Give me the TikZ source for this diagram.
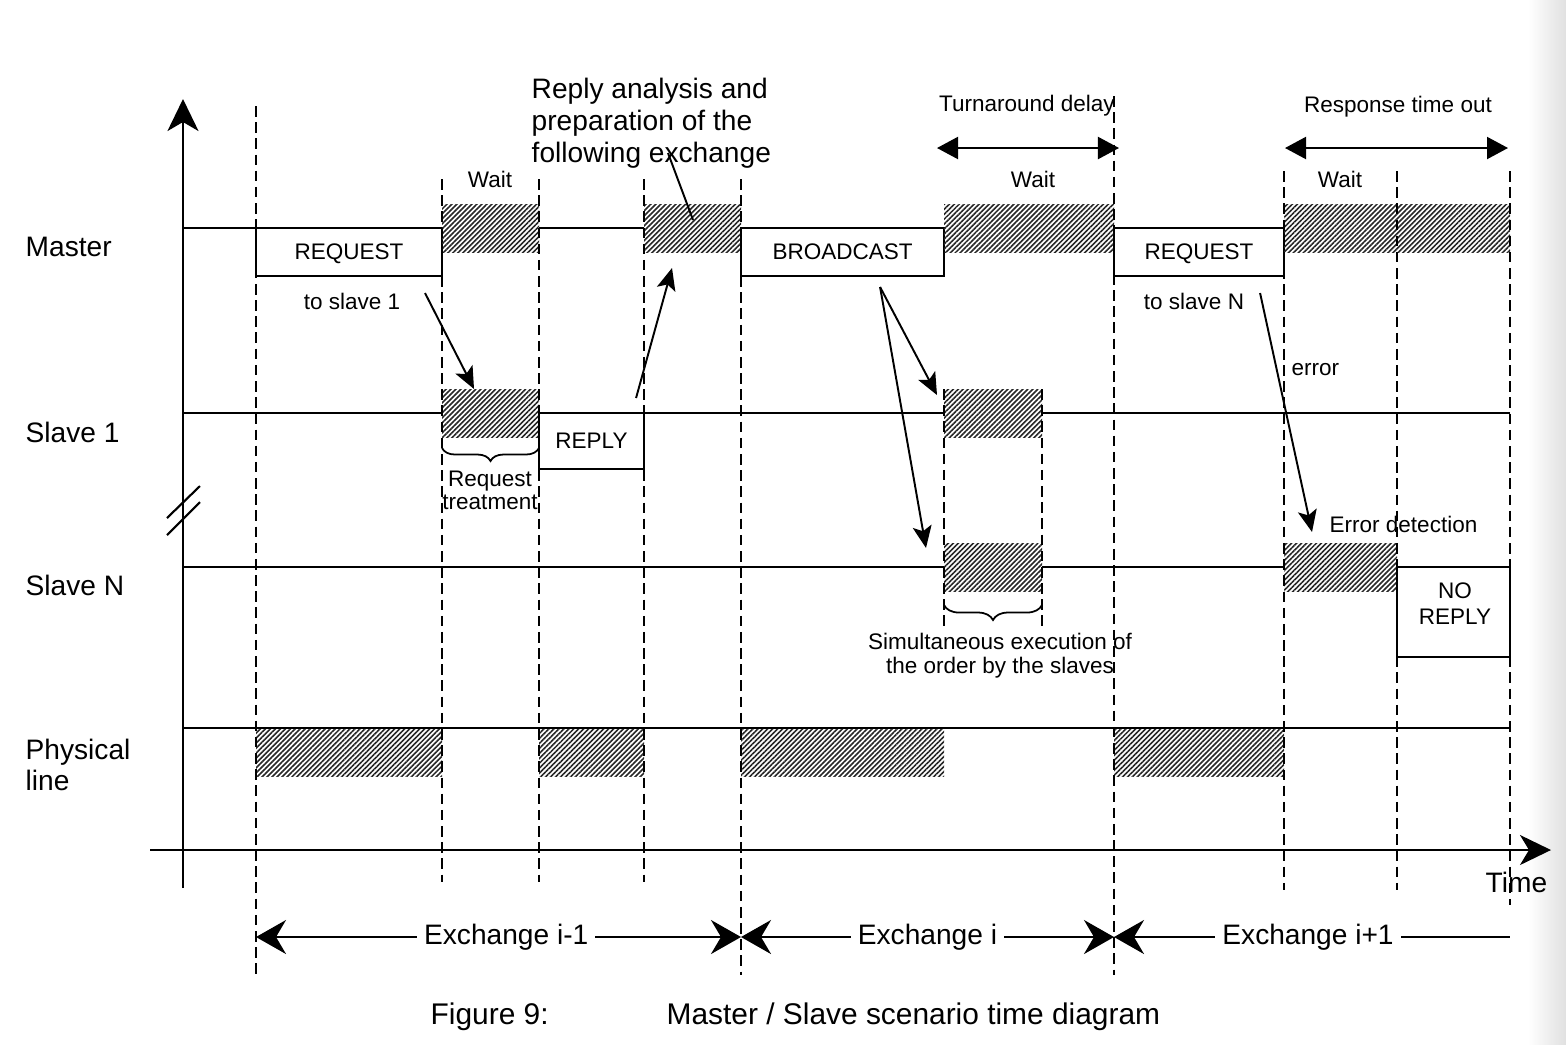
\documentclass[tikz,border=0pt]{standalone}
\usepackage{fontspec}
\setmainfont{Liberation Sans}
\usetikzlibrary{arrows.meta,patterns.meta,decorations.pathreplacing,fit,calc}

\newcommand{\lblbig}{\fontsize{8}{9.1}\selectfont}
\newcommand{\lblsmall}{\fontsize{6.4}{7.4}\selectfont}

\tikzset{
  sig/.style={line width=0.6pt},
  guide/.style={line width=0.6pt, dash pattern=on 3pt off 1.6pt},
  busy/.style={inner sep=0pt, outer sep=0pt,
    pattern={Lines[angle=45,distance=1pt,line width=0.45pt]}, pattern color=black!85},
  msgbox/.style={draw, line width=0.6pt, inner sep=0pt, outer sep=0pt, anchor=north west,
    text depth=0pt, font=\lblsmall},
  lbl/.style={inner sep=0pt, font=\lblbig, align=left},
  sml/.style={inner sep=0pt, font=\lblsmall, align=center},
  pointer/.style={line width=0.55pt, -{Stealth[length=0.22cm,width=0.19cm,inset=0.05cm]}},
  span/.style={line width=0.6pt, {Triangle[length=0.21cm,width=0.22cm]}-{Triangle[length=0.21cm,width=0.22cm]}},
  exhead/.style={line width=0.6pt},
}

\begin{document}
\begin{tikzpicture}[x=0.01cm, y=-0.01cm]
  \useasboundingbox (0,0) rectangle (1566,1044);
  \shade[left color=white, right color=black!12] (1528,0) rectangle (1566,1044);

  % axes
  \coordinate (ybot) at (183,888);
  \coordinate (ytop) at (183,99);
  \coordinate (xleft) at (150,850);
  \coordinate (xright) at (1551,850);
  \draw[sig, -{Stealth[length=0.32cm,width=0.31cm,inset=0.09cm]}] (ybot) -- (ytop);
  \draw[sig, -{Stealth[length=0.31cm,width=0.30cm,inset=0.09cm]}] (xleft) -- (xright);
  \draw[sig] (167,518) -- (200,486);
  \draw[sig] (167,535) -- (200,502);

  % row names
  \node[lbl, anchor=base west] (mastername) at (25,256) {Master};
  \node[lbl, anchor=base west] (slave1name) at (25,442) {Slave 1};
  \node[lbl, anchor=base west] (slavenname) at (25,595) {Slave N};
  \node[lbl, anchor=north west, font=\fontsize{8}{8.8}\selectfont] (linename) at (25,738) {Physical\\line};
  \node[lbl, anchor=base west] (timename) at (1485,892) {Time};

  % master
  \node[msgbox, minimum width=1.86cm, minimum height=0.48cm] (req1) at (256,228) {REQUEST};
  \node[busy, fit={(442,204) (539,252)}] (mwait1) {};
  \node[busy, fit={(644,204) (741,252)}] (mwait2) {};
  \node[msgbox, minimum width=2.03cm, minimum height=0.48cm] (bcast) at (741,228) {BROADCAST};
  \node[busy, fit={(944,204) (1114,252)}] (mwait3) {};
  \node[msgbox, minimum width=1.70cm, minimum height=0.48cm] (req2) at (1114,228) {REQUEST};
  \node[busy, fit={(1284,204) (1510,252)}] (mwait4) {};
  \draw[sig] (183,228) -- (req1.north west);
  \draw[sig] (mwait1.east) -- (mwait2.west);

  % slave 1
  \node[busy, fit={(442,389) (539,437)}] (s1busy) {};
  \node[msgbox, minimum width=1.05cm, minimum height=0.56cm] (reply) at (539,413) {REPLY};
  \node[busy, fit={(944,389) (1042,437)}] (s1exec) {};
  \draw[sig] (183,413) -- (s1busy.west);
  \draw[sig] (reply.north east) -- (s1exec.west);
  \draw[sig] (s1exec.east) -- (1510,413);

  % slave N
  \node[busy, fit={(944,543) (1042,591)}] (snexec) {};
  \node[busy, fit={(1284,543) (1397,591)}] (snerr) {};
  \node[msgbox, minimum width=1.13cm, minimum height=0.90cm] (noreply) at (1397,567) {};
  \node[sml] (noreplytxt) at (1455,604) {NO\\REPLY};
  \draw[sig] (183,567) -- (snexec.west);
  \draw[sig] (snexec.east) -- (snerr.west);

  % physical line
  \node[busy, fit={(256,728) (442,776)}] (line1) {};
  \node[busy, fit={(539,728) (644,776)}] (line2) {};
  \node[busy, fit={(741,728) (944,776)}] (line3) {};
  \node[busy, fit={(1114,728) (1284,776)}] (line4) {};
  \draw[sig] (183,728) -- (1510,728);

  % time marks
  \foreach \x/\ya/\yb in {256/106/975, 442/179/882, 539/179/882, 644/179/882, 741/179/975,
      944/389/628, 1042/389/628, 1114/96/975, 1284/171/890, 1397/171/890, 1510/171/905}
    \draw[guide] (\x,\ya) -- (\x,\yb);

  % braces
  \draw[line width=0.5pt, decorate, decoration={brace, amplitude=0.13cm}]
    ([yshift=-0.11cm]s1busy.south east) -- ([yshift=-0.11cm]s1busy.south west);
  \draw[line width=0.5pt, decorate, decoration={brace, amplitude=0.15cm}]
    ([yshift=-0.14cm]snexec.south east) -- ([yshift=-0.14cm]snexec.south west);
  \node[sml, anchor=north, font=\fontsize{6.4}{6.6}\selectfont] (treat) at (490,470) {Request\\treatment};
  \node[sml, anchor=north, font=\fontsize{6.4}{6.9}\selectfont] (simul) at (1000,632) {Simultaneous execution of\\the order by the slaves};

  % texts
  \node[sml, anchor=base] (tos1) at (352,309) {to slave 1};
  \node[sml, anchor=base] (tosn) at (1194,309) {to slave N};
  \node[sml, anchor=base] (wait1) at (490,187) {Wait};
  \node[sml, anchor=base] (wait2) at (1033,187) {Wait};
  \node[sml, anchor=base] (wait3) at (1340,187) {Wait};
  \node[sml, anchor=base] (turn) at (1027,111) {Turnaround delay};
  \node[sml, anchor=base] (resp) at (1398,112) {Response time out};
  \node[sml, anchor=base west] (err) at (1291,375) {error};
  \node[sml, anchor=base west] (errdet) at (1329,532) {Error detection};
  \node[lbl, anchor=north west] (analysis) at (531,77) {Reply analysis and\\preparation of the\\following exchange};

  % pointers
  \coordinate (from1) at (425,293);
  \draw[pointer] (from1) -- ([xshift=0.32cm]s1busy.north west);
  \draw[pointer] ([xshift=-0.08cm,yshift=0.15cm]reply.north east) -- ([xshift=0.28cm,yshift=-0.16cm]mwait2.south west);
  \coordinate (from2) at (668,153);
  \draw[line width=0.55pt] (from2) -- ([xshift=0.49cm,yshift=0.32cm]mwait2.south west);
  \coordinate (from3) at ([xshift=-0.64cm,yshift=-0.11cm]bcast.south east);
  \draw[pointer] (from3) -- ([xshift=-0.07cm,yshift=-0.06cm]s1exec.north west);
  \draw[pointer] (from3) -- ([xshift=-0.18cm,yshift=0.19cm]snexec.west);
  \draw[pointer] ([xshift=-0.24cm,yshift=-0.17cm]req2.south east) -- ([xshift=0.28cm,yshift=0.11cm]snerr.north west);

  % delays
  \coordinate (turnl) at (937,148);
  \coordinate (turnr) at (1119,148);
  \draw[span] (turnl) -- (turnr);
  \coordinate (respl) at (1285,148);
  \coordinate (respr) at (1508,148);
  \draw[span] (respl) -- (respr);

  % exchanges
  \coordinate (ex0) at (256,937);
  \coordinate (ex1) at (741,937);
  \coordinate (ex2) at (1114,937);
  \coordinate (ex3) at (1510,937);
  \draw[exhead, {Stealth[length=0.3cm,width=0.34cm,inset=0.1cm]}-{Stealth[length=0.3cm,width=0.34cm,inset=0.1cm]}]
    (ex0) -- node[lbl, pos=0.516, fill=white, inner xsep=0.07cm] (exprev) {Exchange i-1} (ex1);
  \draw[exhead, {Stealth[length=0.3cm,width=0.34cm,inset=0.1cm]}-{Stealth[length=0.3cm,width=0.34cm,inset=0.1cm]}]
    (ex1) -- node[lbl, fill=white, inner xsep=0.07cm] (excur) {Exchange i} (ex2);
  \draw[exhead, {Stealth[length=0.3cm,width=0.34cm,inset=0.1cm]}-]
    (ex2) -- node[lbl, pos=0.49, fill=white, inner xsep=0.07cm] (exnext) {Exchange i+1} (ex3);

  % caption
  \node[anchor=base west, inner sep=0pt, font=\fontsize{8.5}{10}\selectfont] (capnum) at (430,1024) {Figure 9:};
  \node[anchor=base west, inner sep=0pt, font=\fontsize{8.5}{10}\selectfont] (captext) at (666,1024) {Master / Slave scenario time diagram};
\end{tikzpicture}
\end{document}
